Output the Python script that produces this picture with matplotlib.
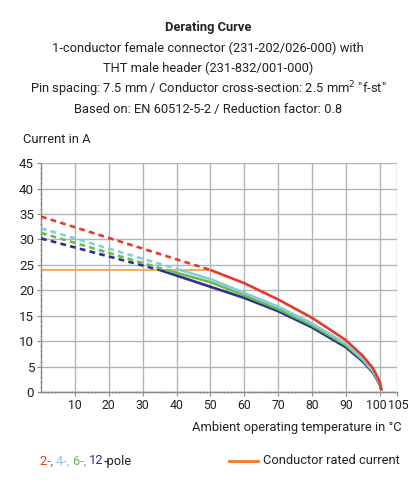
import matplotlib
matplotlib.use("Agg")
import matplotlib.pyplot as plt
import matplotlib.transforms as mtransforms
from matplotlib.ticker import MultipleLocator, FixedLocator

plt.rcParams['font.family'] = ['Roboto', 'DejaVu Sans']

# data
rated_x = [0, 50]
rated_y = [24.0, 24.0]

red_dash_x = [0, 50]
red_dash_y = [34.5, 24.0]
red_x = [50, 60, 70, 80, 90, 95, 98, 100, 100.5]
red_y = [24.0, 21.4, 18.2, 14.6, 10.2, 7.1, 4.7, 2.0, 0.3]

cyan_dash_x = [0, 41]
cyan_dash_y = [32.2, 24.0]
cyan_x = [41, 50, 60, 70, 80, 90, 95, 98, 100, 100.5]
cyan_y = [24.0, 22.2, 19.5, 16.8, 13.5, 9.5, 6.5, 4.2, 1.8, 0.3]

green_dash_x = [0, 37]
green_dash_y = [31.3, 24.0]
green_x = [37, 50, 60, 70, 80, 90, 95, 98, 100, 100.5]
green_y = [24.0, 21.6, 19.0, 16.3, 13.1, 9.2, 6.3, 4.0, 1.7, 0.3]

blue_dash_x = [0, 35]
blue_dash_y = [30.2, 24.0]
blue_x = [35, 40, 50, 60, 70, 80, 90, 95, 98, 100, 100.5]
blue_y = [24.0, 22.9, 20.7, 18.5, 15.9, 12.7, 8.8, 6.0, 3.8, 1.5, 0.3]

x_ticks = [10, 20, 30, 40, 50, 60, 70, 80, 90, 100, 105]
y_ticks = [0, 5, 10, 15, 20, 25, 30, 35, 40, 45]

RED = "#e63a2b"
CYAN = "#82cfd6"
GREEN = "#6dbb4c"
BLUE = "#2e2f8c"
ORANGE = "#f6a83c"
ORANGE_LEG = "#f07a1c"
TXT = "#222222"
FS = 9.3

fig = plt.figure(figsize=(4.16, 4.87), dpi=100)
ax = fig.add_axes([0.0986, 0.195, 0.855, 0.470])

ax.plot(rated_x, rated_y, color=ORANGE, lw=1.3, zorder=2)

series = [
    (blue_dash_x, blue_dash_y, blue_x, blue_y, BLUE),
    (green_dash_x, green_dash_y, green_x, green_y, GREEN),
    (cyan_dash_x, cyan_dash_y, cyan_x, cyan_y, CYAN),
    (red_dash_x, red_dash_y, red_x, red_y, RED),
]
for dx, dy, sx, sy, c in series:
    ax.plot(dx, dy, color=c, lw=1.9, dashes=(2.2, 1.6), zorder=3)
    ax.plot(sx, sy, color=c, lw=1.9, zorder=3, solid_capstyle="butt")

ax.set_xlim(0, 105)
ax.set_ylim(0, 45)
ax.xaxis.set_major_locator(FixedLocator(x_ticks))
ax.yaxis.set_major_locator(FixedLocator(y_ticks))
ax.xaxis.set_minor_locator(MultipleLocator(1))
ax.yaxis.set_minor_locator(MultipleLocator(1))
ax.grid(True, which="major", color="#b4b4b4", lw=1.0, zorder=0)
for s in ["top", "right"]:
    ax.spines[s].set_visible(False)
for s in ["left", "bottom"]:
    ax.spines[s].set_color("#8a8a8a")
    ax.spines[s].set_linewidth(1.0)
ax.tick_params(which="major", length=3, width=0.8, color="#8a8a8a",
               labelcolor=TXT, pad=2)
ax.tick_params(axis="y", labelsize=9.6)
ax.tick_params(axis="x", labelsize=8.8)
ax.tick_params(which="minor", length=1.5, width=0.6, color="#8a8a8a", direction="inout")
ax.set_axisbelow(True)

# pull the 100 / 105 labels apart a little
ticklabels = ax.get_xticklabels()
ticklabels[-2].set_transform(ticklabels[-2].get_transform()
                             + mtransforms.ScaledTranslation(-3 / 100, 0, fig.dpi_scale_trans))
ticklabels[-1].set_transform(ticklabels[-1].get_transform()
                             + mtransforms.ScaledTranslation(-1 / 100, 0, fig.dpi_scale_trans))
ticklabels[-1].set_horizontalalignment("left")
ticklabels[-1].set_transform(ticklabels[-1].get_transform()
                             + mtransforms.ScaledTranslation(-8 / 100, 0, fig.dpi_scale_trans))

title_lines = [
    "1-conductor female connector (231-202/026-000) with",
    "THT male header (231-832/001-000)",
    "Pin spacing: 7.5 mm / Conductor cross-section: 2.5 mm$^2$ \"f-st\"",
    "Based on: EN 60512-5-2 / Reduction factor: 0.8",
]
fig.text(0.5, 1 - 28 / 487, "Derating Curve", ha="center", va="center",
         fontsize=FS, fontweight="bold", color=TXT)
for i, line in enumerate(title_lines):
    fig.text(0.5, 1 - (48 + i * 20.5) / 487, line, ha="center", va="center",
             fontsize=FS, color=TXT)

fig.text(23 / 416, 1 - 139 / 487, "Current in A", ha="left", va="center",
         fontsize=FS, color=TXT)
fig.text(402 / 416, 1 - 428 / 487, "Ambient operating temperature in °C",
         ha="right", va="center", fontsize=FS, color=TXT)

# colored pole legend
legend_parts = [("2-, ", RED), ("4-, ", CYAN), ("6-, ", GREEN), ("12", BLUE), ("-pole", TXT)]
renderer = fig.canvas.get_renderer()
xpos = 40 / 416
for txt, c in legend_parts:
    t = fig.text(xpos, 1 - 461 / 487, txt, ha="left", va="center", fontsize=FS, color=c)
    bb = t.get_window_extent(renderer=renderer)
    xpos += bb.width / fig.bbox.width

fig.lines.append(plt.Line2D([229 / 416, 258 / 416], [1 - 461 / 487] * 2,
                            color=ORANGE_LEG, lw=2, transform=fig.transFigure))
fig.text(263 / 416, 1 - 461 / 487, "Conductor rated current", ha="left", va="center",
         fontsize=FS, color=TXT)

fig.savefig("out.png", dpi=100)
